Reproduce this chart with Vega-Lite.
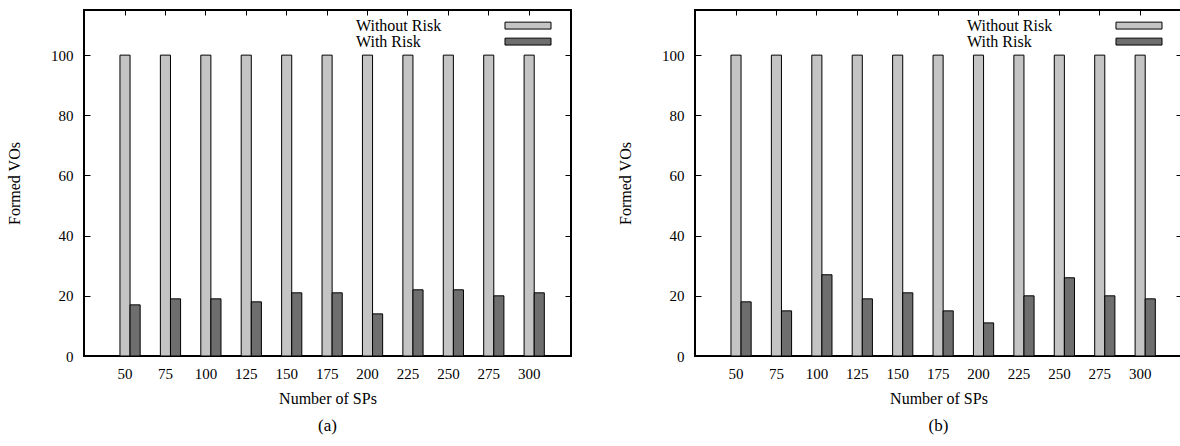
{
  "$schema": "https://vega.github.io/schema/vega-lite/v6.json",
  "padding": {"left": 5, "top": 8, "right": 0, "bottom": 0},
  "background": "white",
  "datasets": {
    "a": [
      {"sps": 50, "series": "Without Risk", "value": 100},
      {"sps": 75, "series": "Without Risk", "value": 100},
      {"sps": 100, "series": "Without Risk", "value": 100},
      {"sps": 125, "series": "Without Risk", "value": 100},
      {"sps": 150, "series": "Without Risk", "value": 100},
      {"sps": 175, "series": "Without Risk", "value": 100},
      {"sps": 200, "series": "Without Risk", "value": 100},
      {"sps": 225, "series": "Without Risk", "value": 100},
      {"sps": 250, "series": "Without Risk", "value": 100},
      {"sps": 275, "series": "Without Risk", "value": 100},
      {"sps": 300, "series": "Without Risk", "value": 100},
      {"sps": 50, "series": "With Risk", "value": 17},
      {"sps": 75, "series": "With Risk", "value": 19},
      {"sps": 100, "series": "With Risk", "value": 19},
      {"sps": 125, "series": "With Risk", "value": 18},
      {"sps": 150, "series": "With Risk", "value": 21},
      {"sps": 175, "series": "With Risk", "value": 21},
      {"sps": 200, "series": "With Risk", "value": 14},
      {"sps": 225, "series": "With Risk", "value": 22},
      {"sps": 250, "series": "With Risk", "value": 22},
      {"sps": 275, "series": "With Risk", "value": 20},
      {"sps": 300, "series": "With Risk", "value": 21}
    ],
    "b": [
      {"sps": 50, "series": "Without Risk", "value": 100},
      {"sps": 75, "series": "Without Risk", "value": 100},
      {"sps": 100, "series": "Without Risk", "value": 100},
      {"sps": 125, "series": "Without Risk", "value": 100},
      {"sps": 150, "series": "Without Risk", "value": 100},
      {"sps": 175, "series": "Without Risk", "value": 100},
      {"sps": 200, "series": "Without Risk", "value": 100},
      {"sps": 225, "series": "Without Risk", "value": 100},
      {"sps": 250, "series": "Without Risk", "value": 100},
      {"sps": 275, "series": "Without Risk", "value": 100},
      {"sps": 300, "series": "Without Risk", "value": 100},
      {"sps": 50, "series": "With Risk", "value": 18},
      {"sps": 75, "series": "With Risk", "value": 15},
      {"sps": 100, "series": "With Risk", "value": 27},
      {"sps": 125, "series": "With Risk", "value": 19},
      {"sps": 150, "series": "With Risk", "value": 21},
      {"sps": 175, "series": "With Risk", "value": 15},
      {"sps": 200, "series": "With Risk", "value": 11},
      {"sps": 225, "series": "With Risk", "value": 20},
      {"sps": 250, "series": "With Risk", "value": 26},
      {"sps": 275, "series": "With Risk", "value": 20},
      {"sps": 300, "series": "With Risk", "value": 19}
    ]
  },
  "spacing": 43,
  "hconcat": [
    {
      "data": {"name": "a"},
      "width": 487,
      "height": 346,
      "title": {"text": "(a)", "orient": "bottom", "fontSize": 17, "fontWeight": "normal", "offset": 12},
      "layer": [
        {
          "mark": {"type": "bar", "stroke": "black", "strokeWidth": 1},
          "encoding": {
            "x": {"field": "sps", "type": "ordinal", "scale": {"type": "band", "paddingInner": 0.5, "paddingOuter": 0.775, "align": 0.574},
                  "axis": {"orient": "bottom", "title": "Number of SPs", "labelAngle": 0, "bandPosition": 0.25, "labelOffset": -5, "tickSize": -5, "labelPadding": 15.5, "titlePadding": 8.5}},
            "xOffset": {"field": "series", "sort": ["Without Risk", "With Risk"], "scale": {"paddingInner": 0, "paddingOuter": 0}},
            "y": {"field": "value", "type": "quantitative", "scale": {"domain": [0, 115], "nice": false},
                  "axis": {"orient": "left", "title": "Formed VOs", "values": [0, 20, 40, 60, 80, 100], "tickSize": -6, "labelPadding": 17, "titlePadding": 28}},
            "color": {"field": "series", "type": "nominal", "sort": ["Without Risk", "With Risk"],
                      "scale": {"domain": ["Without Risk", "With Risk"], "range": ["#c4c4c4", "#6e6e6e"]},
                      "legend": {"title": null, "orient": "none", "legendX": 436, "legendY": 7.6, "symbolType": "M-6,-0.9H6V0.9H-6Z", "symbolSize": 58.8, "symbolOffset": 0, "labelOffset": -180, "rowPadding": 0, "labelFontSize": 16, "symbolStrokeColor": "black", "symbolStrokeWidth": 1, "padding": 0}}
          }
        },
        {
          "mark": {"type": "bar", "opacity": 0},
          "encoding": {
            "x": {"field": "sps", "type": "ordinal", "scale": {"type": "band", "paddingInner": 0.5, "paddingOuter": 0.775, "align": 0.574},
                  "axis": {"orient": "top", "title": null, "labels": false, "bandPosition": 0.25, "tickSize": -5}},
            "xOffset": {"field": "series", "sort": ["Without Risk", "With Risk"], "scale": {"paddingInner": 0, "paddingOuter": 0}},
            "y": {"field": "value", "type": "quantitative", "scale": {"domain": [0, 115], "nice": false},
                  "axis": {"orient": "right", "title": null, "labels": false, "values": [0, 20, 40, 60, 80, 100], "tickSize": -6}}
          }
        }
      ],
      "resolve": {"axis": {"x": "independent", "y": "independent"}}
    },
    {
      "data": {"name": "b"},
      "width": 487,
      "height": 346,
      "title": {"text": "(b)", "orient": "bottom", "fontSize": 17, "fontWeight": "normal", "offset": 12},
      "layer": [
        {
          "mark": {"type": "bar", "stroke": "black", "strokeWidth": 1},
          "encoding": {
            "x": {"field": "sps", "type": "ordinal", "scale": {"type": "band", "paddingInner": 0.5, "paddingOuter": 0.775, "align": 0.574},
                  "axis": {"orient": "bottom", "title": "Number of SPs", "labelAngle": 0, "bandPosition": 0.25, "labelOffset": -5, "tickSize": -5, "labelPadding": 15.5, "titlePadding": 8.5}},
            "xOffset": {"field": "series", "sort": ["Without Risk", "With Risk"], "scale": {"paddingInner": 0, "paddingOuter": 0}},
            "y": {"field": "value", "type": "quantitative", "scale": {"domain": [0, 115], "nice": false},
                  "axis": {"orient": "left", "title": "Formed VOs", "values": [0, 20, 40, 60, 80, 100], "tickSize": -6, "labelPadding": 17, "titlePadding": 28}},
            "color": {"field": "series", "type": "nominal", "sort": ["Without Risk", "With Risk"],
                      "scale": {"domain": ["Without Risk", "With Risk"], "range": ["#c4c4c4", "#6e6e6e"]},
                      "legend": {"title": null, "orient": "none", "legendX": 436, "legendY": 7.6, "symbolType": "M-6,-0.9H6V0.9H-6Z", "symbolSize": 58.8, "symbolOffset": 0, "labelOffset": -180, "rowPadding": 0, "labelFontSize": 16, "symbolStrokeColor": "black", "symbolStrokeWidth": 1, "padding": 0}}
          }
        },
        {
          "mark": {"type": "bar", "opacity": 0},
          "encoding": {
            "x": {"field": "sps", "type": "ordinal", "scale": {"type": "band", "paddingInner": 0.5, "paddingOuter": 0.775, "align": 0.574},
                  "axis": {"orient": "top", "title": null, "labels": false, "bandPosition": 0.25, "tickSize": -5}},
            "xOffset": {"field": "series", "sort": ["Without Risk", "With Risk"], "scale": {"paddingInner": 0, "paddingOuter": 0}},
            "y": {"field": "value", "type": "quantitative", "scale": {"domain": [0, 115], "nice": false},
                  "axis": {"orient": "right", "title": null, "labels": false, "values": [0, 20, 40, 60, 80, 100], "tickSize": -6}}
          }
        }
      ],
      "resolve": {"axis": {"x": "independent", "y": "independent"}}
    }
  ],
  "resolve": {"legend": {"color": "independent"}},
  "config": {
    "font": "Liberation Serif",
    "view": {"stroke": "black", "strokeWidth": 2},
    "axis": {"domain": false, "grid": false, "tickColor": "black", "tickWidth": 1, "labelColor": "black", "titleColor": "black", "labelFontSize": 15, "titleFontSize": 16, "titleFontWeight": "normal", "labelFont": "Liberation Serif", "titleFont": "Liberation Serif"},
    "legend": {"labelColor": "black", "labelFont": "Liberation Serif"},
    "title": {"font": "Liberation Serif", "color": "black"}
  }
}
